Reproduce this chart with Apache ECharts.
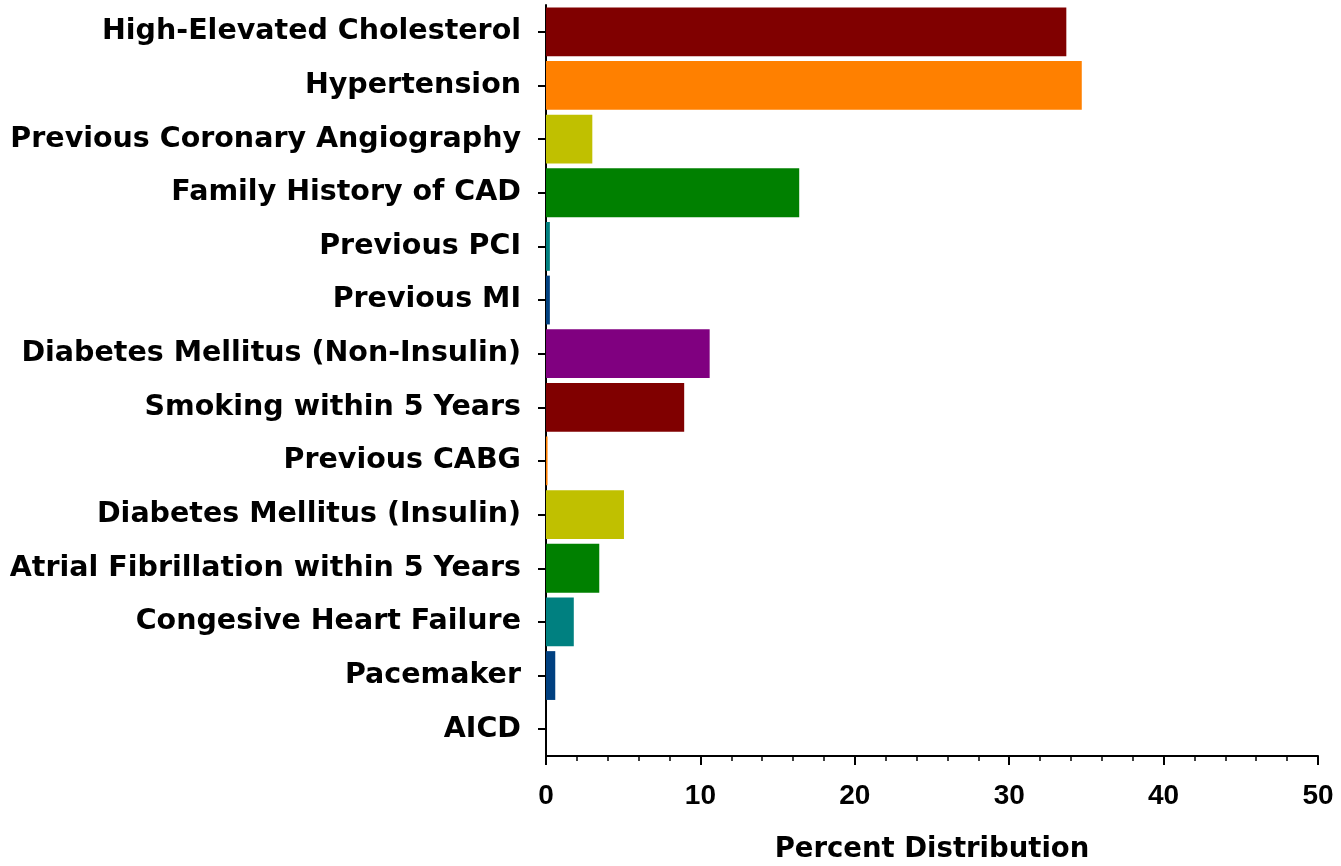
<!DOCTYPE html>
<html>
<head>
<meta charset="utf-8">
<script src="https://cdn.jsdelivr.net/npm/echarts@6/dist/echarts.min.js"></script>
<style>
    html, body { margin: 0; padding: 0; background: #fff; }
    #chart { width: 1341px; height: 866px; }
</style>
</head>
<body>
<div id="chart"></div>
<script>
const categories = [
    'High-Elevated Cholesterol',
    'Hypertension',
    'Previous Coronary Angiography',
    'Family History of CAD',
    'Previous PCI',
    'Previous MI',
    'Diabetes Mellitus (Non-Insulin)',
    'Smoking within 5 Years',
    'Previous CABG',
    'Diabetes Mellitus (Insulin)',
    'Atrial Fibrillation within 5 Years',
    'Congesive Heart Failure',
    'Pacemaker',
    'AICD'
];
const percents = [33.7, 34.7, 3.0, 16.4, 0.25, 0.25, 10.6, 8.95, 0.1, 5.05, 3.45, 1.8, 0.6, 0];
const barColors = ['#800000', '#ff8000', '#c0c000', '#008000', '#008080', '#004080', '#800080'];
const xTicks = { min: 0, max: 50, interval: 10 };

const chart = echarts.init(document.getElementById('chart'));

const option = {
    animation: false,
    grid: {
        left: 546,
        right: 23,
        top: 5,
        bottom: 110,
        containLabel: false,
        outerBoundsMode: 'none',
    },
    xAxis: {
        type: 'value',
        min: xTicks.min,
        max: xTicks.max,
        interval: xTicks.interval,
        name: 'Percent Distribution',
        nameLocation: 'middle',
        nameGap: 80,
        nameTextStyle: {
            fontFamily: 'DejaVu Sans',
            fontWeight: 'bold',
            fontSize: 27.5,
            color: '#000',
        },
        axisLine: { show: true, lineStyle: { color: '#000', width: 2 } },
        axisTick: { show: true, length: 9, lineStyle: { color: '#000', width: 2 } },
        minorTick: { show: true, splitNumber: 5, length: 5, lineStyle: { color: '#000', width: 1.5 } },
        splitLine: { show: false },
        axisLabel: {
            margin: 26,
            fontFamily: '"Liberation Sans", Arial, sans-serif',
            fontWeight: 'bold',
            fontSize: 28,
            color: '#000',
        },
    },
    yAxis: {
        type: 'category',
        inverse: true,
        data: categories,
        axisLine: { show: true, lineStyle: { color: '#000', width: 2 } },
        axisTick: { show: true, alignWithLabel: true, length: 8, interval: 0, lineStyle: { color: '#000', width: 2 } },
        axisLabel: {
            interval: 0,
            margin: 25,
            padding: [5, 0, 0, 0],
            fontFamily: 'DejaVu Sans',
            fontWeight: 'bold',
            fontSize: 28.5,
            color: '#000',
        },
    },
    series: [
        {
            type: 'bar',
            barCategoryGap: '9%',
            data: percents.map((v, i) => ({
                value: v,
                itemStyle: { color: barColors[i % barColors.length] },
            })),
        },
    ],
};

chart.setOption(option);
</script>
</body>
</html>
